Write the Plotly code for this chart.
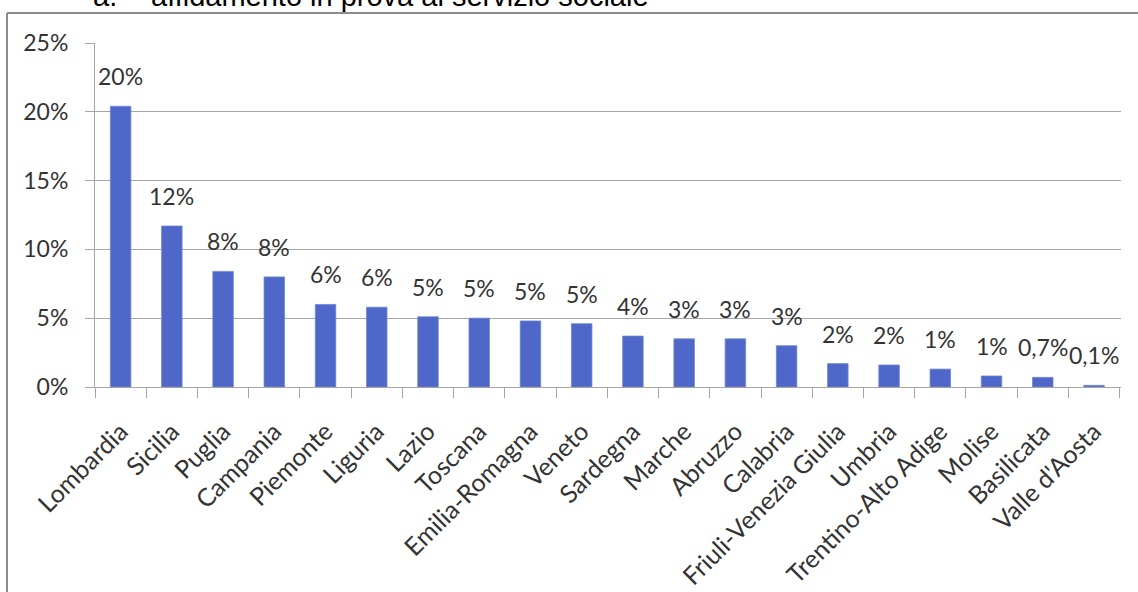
import plotly.graph_objects as go

regions = ["Lombardia", "Sicilia", "Puglia", "Campania", "Piemonte", "Liguria", "Lazio",
           "Toscana", "Emilia-Romagna", "Veneto", "Sardegna", "Marche", "Abruzzo", "Calabria",
           "Friuli-Venezia Giulia", "Umbria", "Trentino-Alto Adige", "Molise", "Basilicata",
           "Valle d'Aosta"]
values = [20.4, 11.7, 8.4, 8.0, 6.0, 5.8, 5.1, 5.0, 4.8, 4.6, 3.7, 3.5, 3.5, 3.0,
          1.7, 1.6, 1.3, 0.8, 0.7, 0.12]
labels = ["20%", "12%", "8%", "8%", "6%", "6%", "5%", "5%", "5%", "5%", "4%", "3%", "3%", "3%",
          "2%", "2%", "1%", "1%", "0,7%", "0,1%"]
y_ticks = [0, 5, 10, 15, 20, 25]
y_ticktext = ["0%", "5%", "10%", "15%", "20%", "25%"]
title_num = "a."
title_text = "affidamento in prova al servizio sociale"

W, H = 1138, 592
L, R, T, B = 95, 17, 43, 205
PW, PH = W - L - R, H - T - B

def px_x(px):
    return (px - L) / PW

def px_y(py):
    return 1 + (T - py) / PH

BAR = "#4E67C8"
GRID = "#A6A6A6"
TXT = "#333333"

fig = go.Figure()
fig.add_trace(go.Bar(
    x=regions, y=values,
    marker=dict(color=BAR, line=dict(color="#6F85D6", width=0.8)),
    hoverinfo="x+y",
))

for r, v, t in zip(regions, values, labels):
    fig.add_annotation(x=r, y=v, text=t, showarrow=False, yanchor="bottom",
                       yshift=14, font=dict(family="Lato", size=23, color=TXT))

fig.add_annotation(xref="paper", yref="paper", x=px_x(91), y=px_y(-4), text=title_num,
                   showarrow=False, xanchor="left", yanchor="middle",
                   font=dict(family="Liberation Sans", size=29, color="#000000"))
fig.add_annotation(xref="paper", yref="paper", x=px_x(149), y=px_y(-4), text=title_text,
                   showarrow=False, xanchor="left", yanchor="middle",
                   font=dict(family="Liberation Sans", size=29, color="#000000"))

# outer frame (left and top edges visible)
fig.add_shape(type="line", xref="paper", yref="paper", x0=px_x(7), x1=px_x(1145),
              y0=px_y(13), y1=px_y(13), line=dict(color="#8C8C8C", width=2))
fig.add_shape(type="line", xref="paper", yref="paper", x0=px_x(7), x1=px_x(7),
              y0=px_y(13), y1=px_y(600), line=dict(color="#8C8C8C", width=2))

fig.update_layout(
    width=W, height=H,
    margin=dict(l=L, r=R, t=T, b=B, pad=0),
    paper_bgcolor="white", plot_bgcolor="white",
    bargap=0.6,
    showlegend=False,
    font=dict(family="Lato", color=TXT),
)
fig.update_xaxes(
    type="category", tickangle=-45, tickson="boundaries",
    ticks="outside", ticklen=10, tickcolor=GRID, tickwidth=1,
    showline=True, linecolor=GRID, linewidth=1,
    showgrid=False, tickfont=dict(family="Lato", size=25, color=TXT),
    ticklabelstandoff=19, automargin=False,
)
fig.update_yaxes(
    range=[0, 25], tickvals=y_ticks, ticktext=y_ticktext,
    ticks="outside", ticklen=9, tickcolor=GRID, tickwidth=1,
    showline=True, linecolor=GRID, linewidth=1,
    showgrid=True, gridcolor=GRID, gridwidth=1, zeroline=False,
    tickfont=dict(family="Lato", size=23, color=TXT),
    ticklabelstandoff=12, automargin=False,
)

fig.write_html("out.html", config={"displayModeBar": False},
               post_script="document.body.style.margin='0';document.body.style.overflow='hidden';")
